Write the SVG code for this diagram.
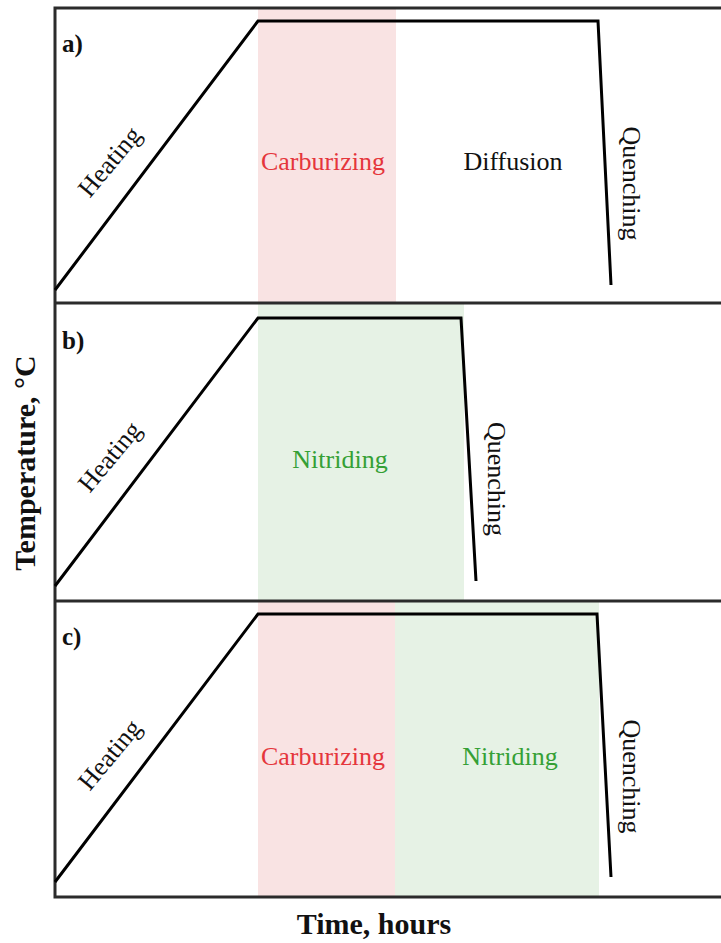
<svg xmlns="http://www.w3.org/2000/svg" width="721" height="943" viewBox="0 0 721 943">
<style>
.frame{stroke:#2b2b2b;stroke-width:3;fill:none}
.curve{stroke:#000;stroke-width:3;fill:none;stroke-linejoin:miter}
.pink{fill:#f9e3e3}
.green{fill:#e6f2e5}
.lbl{font-family:"Liberation Serif",serif;font-size:26px;fill:#111}
.red{fill:#e5363c}
.grn{fill:#35a035}
.tag{font-family:"Liberation Serif",serif;font-size:25px;font-weight:bold;fill:#111}
.axis{font-family:"Liberation Serif",serif;font-size:30px;font-weight:bold;fill:#111}
</style>
<rect width="721" height="943" fill="#fff"/>
<g id="bands">
<rect class="pink" x="258" y="9" width="138" height="293"/>
<rect class="green" x="258" y="304" width="206" height="296"/>
<rect class="pink" x="258" y="602" width="137" height="294"/>
<rect class="green" x="395" y="602" width="204" height="294"/>
</g>
<g id="frame">
<path class="frame" d="M721,8 H55 V897 H721"/>
<line class="frame" x1="55" y1="303" x2="721" y2="303"/>
<line class="frame" x1="55" y1="601" x2="721" y2="601"/>
</g>
<g id="connectors">
<polyline class="curve" points="55,290 258,21 598,21 611,285"/>
<polyline class="curve" points="55,586 258,318 461,318 476,581"/>
<polyline class="curve" points="55,882 258,614 597,614 611,877"/>
</g>
<g id="panel-a">
<text class="tag" x="62" y="52">a)</text>
<text class="lbl" transform="translate(110,162) rotate(-50)" x="0" y="8" text-anchor="middle">Heating</text>
<text class="lbl red" x="323" y="170" text-anchor="middle">Carburizing</text>
<text class="lbl" x="513" y="170" text-anchor="middle">Diffusion</text>
<text class="lbl" transform="translate(623,183.5) rotate(90)" x="0" y="0" text-anchor="middle">Quenching</text>
</g>
<g id="panel-b">
<text class="tag" x="62" y="349">b)</text>
<text class="lbl" transform="translate(110,457) rotate(-50)" x="0" y="8" text-anchor="middle">Heating</text>
<text class="lbl grn" x="340" y="468" text-anchor="middle">Nitriding</text>
<text class="lbl" transform="translate(488,479) rotate(90)" x="0" y="0" text-anchor="middle">Quenching</text>
</g>
<g id="panel-c">
<text class="tag" x="62" y="645">c)</text>
<text class="lbl" transform="translate(110,755) rotate(-50)" x="0" y="8" text-anchor="middle">Heating</text>
<text class="lbl red" x="323" y="765" text-anchor="middle">Carburizing</text>
<text class="lbl grn" x="510" y="765" text-anchor="middle">Nitriding</text>
<text class="lbl" transform="translate(623,776.5) rotate(90)" x="0" y="0" text-anchor="middle">Quenching</text>
</g>
<g id="axes">
<text class="axis" transform="translate(35,463) rotate(-90)" x="0" y="0" text-anchor="middle">Temperature, °C</text>
<text class="axis" x="374" y="934" text-anchor="middle">Time, hours</text>
</g>
</svg>
